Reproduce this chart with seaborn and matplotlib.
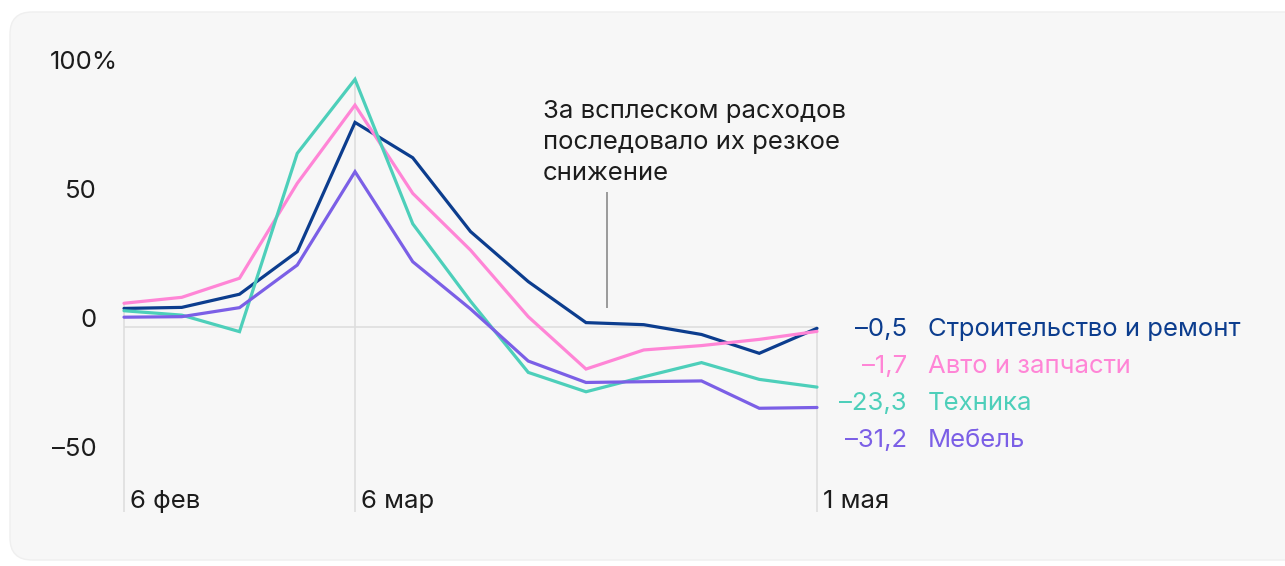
import matplotlib
matplotlib.use("Agg")
import matplotlib.pyplot as plt
from matplotlib.patches import FancyBboxPatch
import pandas as pd
import seaborn as sns

# weekly spending change, % (6 feb .. 1 may)
weeks = ["6 фев", "13 фев", "20 фев", "27 фев", "6 мар", "13 мар", "20 мар",
         "27 мар", "3 апр", "10 апр", "17 апр", "24 апр", "1 мая"]
stroitelstvo = [7.2, 7.6, 12.7, 29.2, 79.3, 65.6, 37.0, 17.6, 1.7, 0.9, -2.9, -10.2, -0.5]
avto = [9.2, 11.5, 18.9, 55.7, 86.0, 51.8, 29.8, 4.0, -16.3, -8.9, -7.2, -4.8, -1.7]
tehnika = [6.3, 4.6, -1.8, 67.3, 96.0, 40.0, 10.0, -17.6, -25.1, -19.3, -13.8, -20.3, -23.3]
mebel = [3.8, 4.0, 7.5, 24.0, 60.2, 25.3, 7.0, -13.2, -21.5, -21.2, -20.9, -31.5, -31.2]

series_names = ["Строительство и ремонт", "Авто и запчасти", "Техника", "Мебель"]
series_values = [stroitelstvo, avto, tehnika, mebel]
final_labels = ["–0,5", "–1,7", "–23,3", "–31,2"]
colors = ["#0c3d8e", "#ff85d6", "#4dcfba", "#7b5fe6"]

x_tick_idx = [0, 4, 12]
y_ticks = [100, 50, 0, -50]
y_tick_labels = ["100%", "50", "0", "–50"]
note = "За всплеском расходов\nпоследовало их резкое\nснижение"

rows = []
for name, vals in zip(series_names, series_values):
    for i, v in enumerate(vals):
        rows.append({"week": i, "value": v, "series": name})
df = pd.DataFrame(rows)

sns.set_theme(style="white")
plt.rcParams["font.family"] = ["Inter", "DejaVu Sans"]
plt.rcParams["font.size"] = 18.5

W, H = 1285, 566
fig = plt.figure(figsize=(W / 100, H / 100), dpi=100)
fig.patch.set_facecolor("white")
fig.patches.append(FancyBboxPatch((10, 6), 1320, 548, boxstyle="round,pad=0,rounding_size=22",
                                  transform=None, facecolor="#f7f7f7", edgecolor="#efefef",
                                  linewidth=1, zorder=-5))

# axes: x px 110..830, y px 55..512
ax = fig.add_axes([110 / W, (H - 512) / H, 720 / W, (512 - 55) / H])
ax.set_facecolor("none")
px_x = 57.75
px_y = 2.58
ax.set_xlim(-14 / px_x, 12 + 13 / px_x)
ax.set_ylim(-(512 - 327) / px_y, (327 - 55) / px_y)
ymin = ax.get_ylim()[0]

# reference lines
ax.hlines(0, 0, 12, color="#dedede", linewidth=1.2, zorder=1)
for i in x_tick_idx:
    top = max(max(v[i] for v in series_values), 0)
    ax.vlines(i, ymin, top, color="#dedede", linewidth=1.2, zorder=1)

sns.lineplot(data=df, x="week", y="value", hue="series", hue_order=series_names,
             palette=colors, linewidth=2.3, legend=False, ax=ax, zorder=3)
for ln in ax.get_lines():
    ln.set_solid_joinstyle("miter")

for s in ax.spines.values():
    s.set_visible(False)
ax.set_xticks([])
ax.set_yticks([])
ax.set_xlabel("")
ax.set_ylabel("")

text_color = "#1c1c1c"
ytr = ax.get_yaxis_transform()
for val, lab in zip(y_ticks, y_tick_labels):
    right = 8 / 720 if lab.endswith("%") else -13 / 720
    ax.text(right, val, lab, transform=ytr, ha="right", va="baseline", color=text_color)

for i in x_tick_idx:
    ax.annotate(weeks[i], xy=(i, ymin), xytext=(6, 4), textcoords="offset pixels",
                ha="left", va="baseline", color=text_color, annotation_clip=False)

for k, (name, lab, col) in enumerate(zip(series_names, final_labels, colors)):
    ax.annotate(lab, xy=(12, 0), xytext=(90, -9 - 37 * k), textcoords="offset pixels",
                ha="right", va="baseline", color=col, annotation_clip=False)
    ax.annotate(name, xy=(12, 0), xytext=(111, -9 - 37 * k), textcoords="offset pixels",
                ha="left", va="baseline", color=col, annotation_clip=False)

# annotation (baseline of last line at px 180)
ax.text((543 - 124) / px_x, (327 - 180) / px_y, note, ha="left", va="baseline",
        linespacing=1.45, color=text_color)
note_x = (606.5 - 124) / px_x
ax.vlines(note_x, (327 - 308) / px_y, (327 - 192) / px_y, color="#8a8a8a", linewidth=1.2, zorder=2)

fig.savefig("out.png", dpi=100, facecolor=fig.get_facecolor())
